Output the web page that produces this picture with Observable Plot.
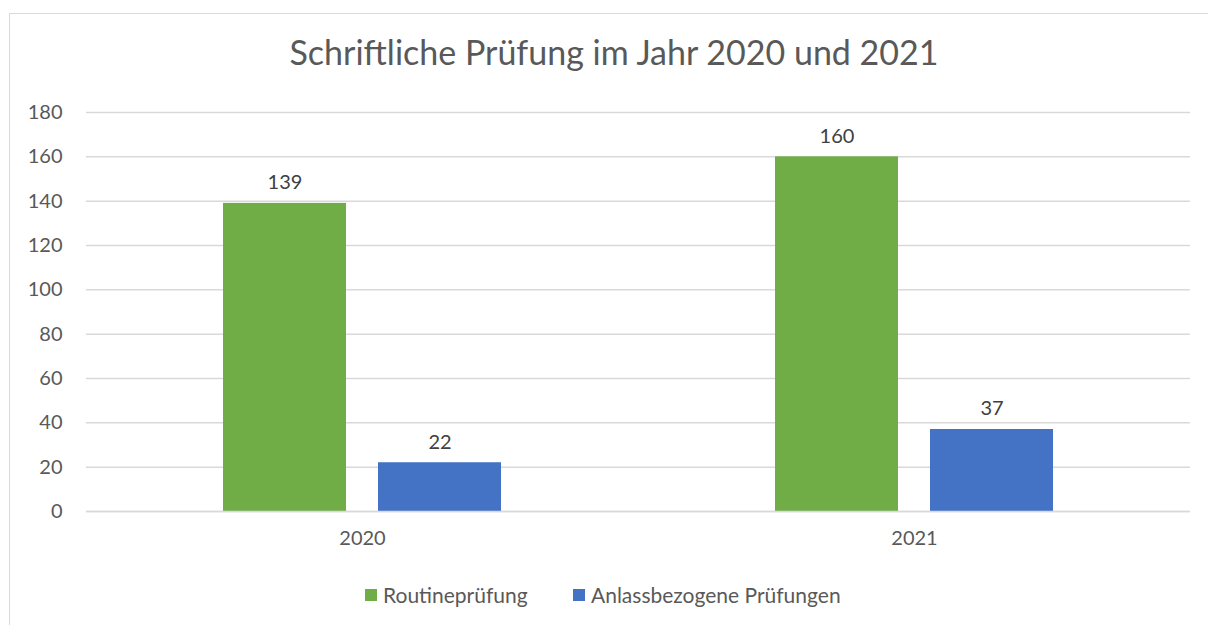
<!DOCTYPE html>
<html>
<head>
<meta charset="utf-8">
<script src="https://cdn.jsdelivr.net/npm/d3@7"></script>
<script src="https://cdn.jsdelivr.net/npm/@observablehq/plot@0.6"></script>
<style>
  html, body { margin: 0; padding: 0; background: #fff; overflow: hidden; width: 1208px; height: 625px; }
  body { position: relative; font-family: Lato, "Open Sans", sans-serif; color: #595959; }
  #frame { position: absolute; left: 9px; top: 13px; width: 1300px; height: 700px; border: 1.5px solid #d9d9d9; box-sizing: border-box; }
  #title { position: absolute; left: 0; top: 31px; width: 1228px; text-align: center; font-size: 34px; line-height: 42px; color: #595959; }
  #chart { position: absolute; left: 0; top: 80px; }
  #legend { position: absolute; top: 582px; left: 0; width: 1208px; font-size: 21px; line-height: 26px; color: #595959; }
  .item { position: absolute; display: flex; align-items: center; white-space: nowrap; }
  .sw { width: 12px; height: 12px; margin-right: 6px; display: inline-block; }
</style>
</head>
<body>
<div id="frame"></div>
<div id="title"></div>
<div id="chart"></div>
<div id="legend"></div>
<script>
const titleText = "Schriftliche Prüfung im Jahr 2020 und 2021";
const years = ["2020", "2021"];
const series = ["Routineprüfung", "Anlassbezogene Prüfungen"];
const routine = [139, 160];
const anlass = [22, 37];
const colors = ["#70AD47", "#4472C4"];
const yTicks = [0, 20, 40, 60, 80, 100, 120, 140, 160, 180];

const data = [];
years.forEach((yr, i) => {
  data.push({year: yr, series: series[0], value: routine[i]});
  data.push({year: yr, series: series[1], value: anlass[i]});
});

document.getElementById("title").textContent = titleText;

const font = "Lato, 'Open Sans', sans-serif";
const chart = Plot.plot({
  width: 1208,
  height: 470,
  marginLeft: 86,
  marginRight: 18,
  marginTop: 32,
  marginBottom: 39,
  style: {fontFamily: font, fontSize: "20px", color: "#595959", background: "transparent", overflow: "visible"},
  fx: {domain: years, padding: 0, label: null},
  x: {domain: series, paddingInner: 0.205, paddingOuter: 0.872, axis: null},
  y: {domain: [0, 180], label: null},
  color: {domain: series, range: colors},
  marks: [
    Plot.gridY(yTicks, {stroke: "#d9d9d9", strokeOpacity: 1, strokeWidth: 1.5}),
    Plot.axisY(yTicks, {tickSize: 0, tickPadding: 24, label: null, fill: "#595959", fontSize: 20}),
    Plot.axisFx({anchor: "bottom", tickSize: 0, tickPadding: 19, label: null, fill: "#595959", fontSize: 20}),
    Plot.barY(data, {fx: "year", x: "series", y: "value", fill: "series"}),
    Plot.ruleY([0], {stroke: "#d9d9d9", strokeWidth: 1.5}),
    Plot.text(data, {fx: "year", x: "series", y: "value", text: d => String(d.value), lineAnchor: "bottom", dy: -14, fill: "#404040", fontSize: 20})
  ]
});
document.getElementById("chart").appendChild(chart);

const legend = document.getElementById("legend");
const legendX = [365, 573];
series.forEach((s, i) => {
  const item = document.createElement("div");
  item.className = "item";
  item.style.left = legendX[i] + "px";
  const sw = document.createElement("span");
  sw.className = "sw";
  sw.style.background = colors[i];
  const lab = document.createElement("span");
  lab.textContent = s;
  item.appendChild(sw);
  item.appendChild(lab);
  legend.appendChild(item);
});
</script>
</body>
</html>
